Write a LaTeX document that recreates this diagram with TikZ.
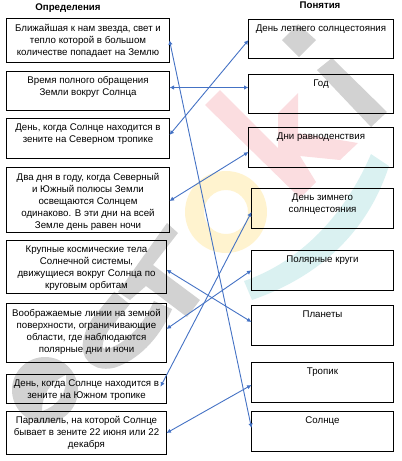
\documentclass[tikz,border=0pt]{standalone}
\usepackage{fontspec}
\setmainfont{Liberation Sans}
\usepackage{tikz}
\usetikzlibrary{arrows.meta}
\definecolor{wmgray}{HTML}{D2D2D2}
\definecolor{wmred}{HTML}{FBDDE0}
\definecolor{wmteal}{HTML}{DAF1F1}
\definecolor{wmyellow}{HTML}{FFF3CF}
\definecolor{linkblue}{HTML}{4472C4}
\newcommand{\boxtext}[3]{\parbox[c][#2pt][t]{#1pt}{\centering\vspace{5.5pt}\fontsize{9.7}{12}\selectfont #3}}

\begin{document}
\begin{tikzpicture}[x=1pt, y=-1pt, every node/.style={font=\fontsize{9.7}{12}\selectfont},
	b/.style={draw=black, line width=0.8pt, inner sep=0pt, outer sep=0pt, anchor=north west},
	head/.style={font=\fontsize{9.7}{12}\selectfont\bfseries, inner sep=0pt},
	link/.style={linkblue, line width=0.9pt, {Latex[length=4.5pt,width=4.5pt]}-{Latex[length=4.5pt,width=4.5pt]}}]
	\useasboundingbox (0,0) rectangle (402,461);
	% watermark
	\fill[wmgray] (282,40) -- (298,24) -- (316,40) -- (299,57) -- cycle;
	\fill[wmgray] (317,70) -- (332,58) -- (387,112) -- (371,127) -- cycle;
	\fill[wmred] (205,105) -- (220,90) -- (278,148) -- (278,113) -- (298,93) -- (298,133) -- (358,143) -- (340,160) -- (300,156) -- (316,182) -- (300,198) -- cycle;
	\fill[wmyellow, even odd rule] (226,212) circle (41) (226,212) circle (22);
	\fill[wmteal] (371,154) -- (389,166) .. controls (365,240) and (310,280) .. (252,300) -- (244,281) .. controls (300,262) and (345,215) .. (371,154) -- cycle;
	\fill[wmgray] (167,223) -- (178,233) -- (153,265) -- (200,300) -- (187,317) -- (146,286) -- (130,300) -- (118,292) -- cycle;
	\draw[wmgray, line width=20pt] (122,298) -- (100,325) .. controls (85,350) and (95,362) .. (112,358) .. controls (130,352) and (150,335) .. (163,305);
	\fill[wmgray, even odd rule] (45,390) circle (33) (42,411) .. controls (42,395) and (50,382) .. (66,375) .. controls (68,392) and (58,406) .. (42,411) -- cycle;
	% headings
	\node[head] (headDef) at (68,8) {Определения};
	\node[head] (headTerm) at (320,5) {Понятия};
	% left column
	\node[b] (defSun) at (6.5,18.5) {\boxtext{163}{43.5}{Ближайшая к нам звезда, свет и\\тепло которой в большом\\количестве попадает на Землю}};
	\node[b] (defYear) at (6.5,71) {\boxtext{163}{39}{Время полного обращения\\Земли вокруг Солнца}};
	\node[b] (defSummer) at (6.5,118) {\boxtext{163}{40}{День, когда Солнце находится в\\зените на Северном тропике}};
	\node[b] (defEquinox) at (6.5,167.5) {\boxtext{163}{65}{Два дня в году, когда Северный\\и Южный полюсы Земли\\освещаются Солнцем\\одинаково. В эти дни на всей\\Земле день равен ночи}};
	\node[b] (defPlanets) at (6.5,240) {\boxtext{160}{53.5}{Крупные космические тела\\Солнечной системы,\\движущиеся вокруг Солнца по\\круговым орбитам}};
	\node[b] (defCircles) at (6.5,303.5) {\boxtext{160}{58.5}{Воображаемые линии на земной\\поверхности, ограничивающие\\области, где наблюдаются\\полярные дни и ночи}};
	\node[b] (defWinter) at (6.5,374) {\boxtext{160}{29.5}{День, когда Солнце находится в\\зените на Южном тропике}};
	\node[b] (defTropic) at (6.5,411) {\boxtext{160}{43}{Параллель, на которой Солнце\\бывает в зените 22 июня или 22\\декабря}};
	% right column
	\node[b] (termSummer) at (248.5,19.5) {\boxtext{145}{39}{День летнего солнцестояния}};
	\node[b] (termYear) at (248.5,74.5) {\boxtext{145}{38.5}{Год}};
	\node[b] (termEquinox) at (248.5,127.5) {\boxtext{145}{40}{Дни равноденствия}};
	\node[b] (termWinter) at (251.5,188.5) {\boxtext{142}{40}{День зимнего\\солнцестояния}};
	\node[b] (termCircles) at (251.5,250) {\boxtext{142}{40.5}{Полярные круги}};
	\node[b] (termPlanets) at (251.5,305) {\boxtext{142}{40}{Планеты}};
	\node[b] (termTropic) at (251.5,362) {\boxtext{142}{40}{Тропик}};
	\node[b] (termSun) at (251.5,411) {\boxtext{142}{40}{Солнце}};
	% connectors
	\foreach \a/\da/\b/\db in {defSun/0/termSun/3, defYear/3/termYear/6.25, defSummer/3/termSummer/-1, defEquinox/-1/termEquinox/-4.5, defPlanets/-3/termPlanets/3, defCircles/3.75/termCircles/0, defTropic/-0.5/termTropic/-3} {\draw[link] ([yshift=\da pt]\a.east) -- ([yshift=\db pt]\b.west);}
	\draw[link] ([xshift=-6pt,yshift=2pt]defWinter.east) -- ([yshift=-3.5pt]termWinter.west);
	\end{tikzpicture}
\end{document}
